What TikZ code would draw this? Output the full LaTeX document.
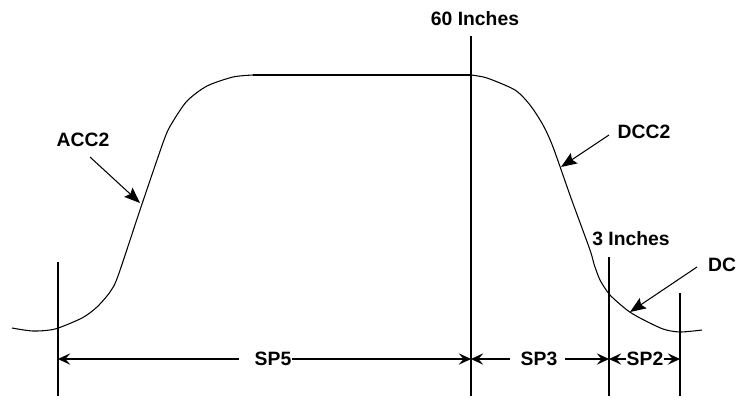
\documentclass[tikz,border=0pt]{standalone}
\usepackage{fontspec}
\setmainfont{Liberation Sans}
\usetikzlibrary{arrows.meta}
\begin{document}
\begin{tikzpicture}[x=0.02cm,y=-0.02cm,
  ln/.style={line width=0.6pt,black},
  lbl/.style={font=\bfseries\fontsize{11}{13}\selectfont,inner sep=0pt},
  dim/.style={ln,-{Stealth[length=7pt,width=6.5pt,inset=2.8pt]}},
  pointer/.style={ln,-{Stealth[length=9pt,width=7pt,inset=1.5pt]}}]
\useasboundingbox (0,0) rectangle (739,400);
% extension lines
\coordinate (v1t) at (58,262);   \coordinate (v1b) at (58,396);
\coordinate (v2t) at (471,36);   \coordinate (v2b) at (471,396);
\coordinate (v3t) at (609,257);  \coordinate (v3b) at (609,396);
\coordinate (v4t) at (680,293);  \coordinate (v4b) at (680,396);
\draw[ln] (v1t) -- (v1b);
\draw[ln] (v2t) -- (v2b);
\draw[ln] (v3t) -- (v3b);
\draw[ln] (v4t) -- (v4b);
% profile curve
\draw[ln] plot[smooth,tension=0.45] coordinates {(12,328) (33,331) (55,329) (82,318) (97,307) (110,292) (118,276) (141,207) (164,140) (172,123) (187,101) (207,86) (233,77) (253,75)};
\draw[ln] (253,75) -- (471,75);
\draw[ln] plot[smooth,tension=0.45] coordinates {(471,75) (487,78) (515,90) (530,105) (543,125) (553,147) (571,198) (590,250) (594,264) (600,280) (610,295) (627,310) (640,318) (663,329) (680,332) (702,330)};
% labels
\node[lbl] (l60) at (475,19) {60 Inches};
\node[lbl] (l3) at (631,239) {3 Inches};
\node[lbl] (dcc) at (644,132) {DCC2};
\node[lbl] (dc) at (722,265) {DC};
\node[lbl] (acc) at (83,140) {ACC2};
\node[lbl] (sp5) at (273,359) {SP5};
\node[lbl] (sp3) at (539,359) {SP3};
\node[lbl] (sp2) at (645,359) {SP2};
% pointer arrows
\coordinate (accs) at (90,157);  \coordinate (acce) at (140,203);
\coordinate (dccs) at (609,135); \coordinate (dcce) at (561,167);
\coordinate (dcs) at (697,267);  \coordinate (dce) at (630,312);
\draw[pointer] (accs) -- (acce);
\draw[pointer] (dccs) -- (dcce);
\draw[pointer] (dcs) -- (dce);
% dimension arrows
\coordinate (d1) at (58,359); \coordinate (d2) at (471,359);
\coordinate (d3) at (609,359); \coordinate (d4) at (680,359);
\draw[dim] (239,359) -- (d1);
\draw[dim] (sp5.east) -- (d2);
\draw[dim] (510,359) -- (d2);
\draw[dim] (565,359) -- (d3);
\draw[dim] (sp2.west) -- (d3);
\draw[dim] (sp2.east) -- (d4);
\end{tikzpicture}
\end{document}
